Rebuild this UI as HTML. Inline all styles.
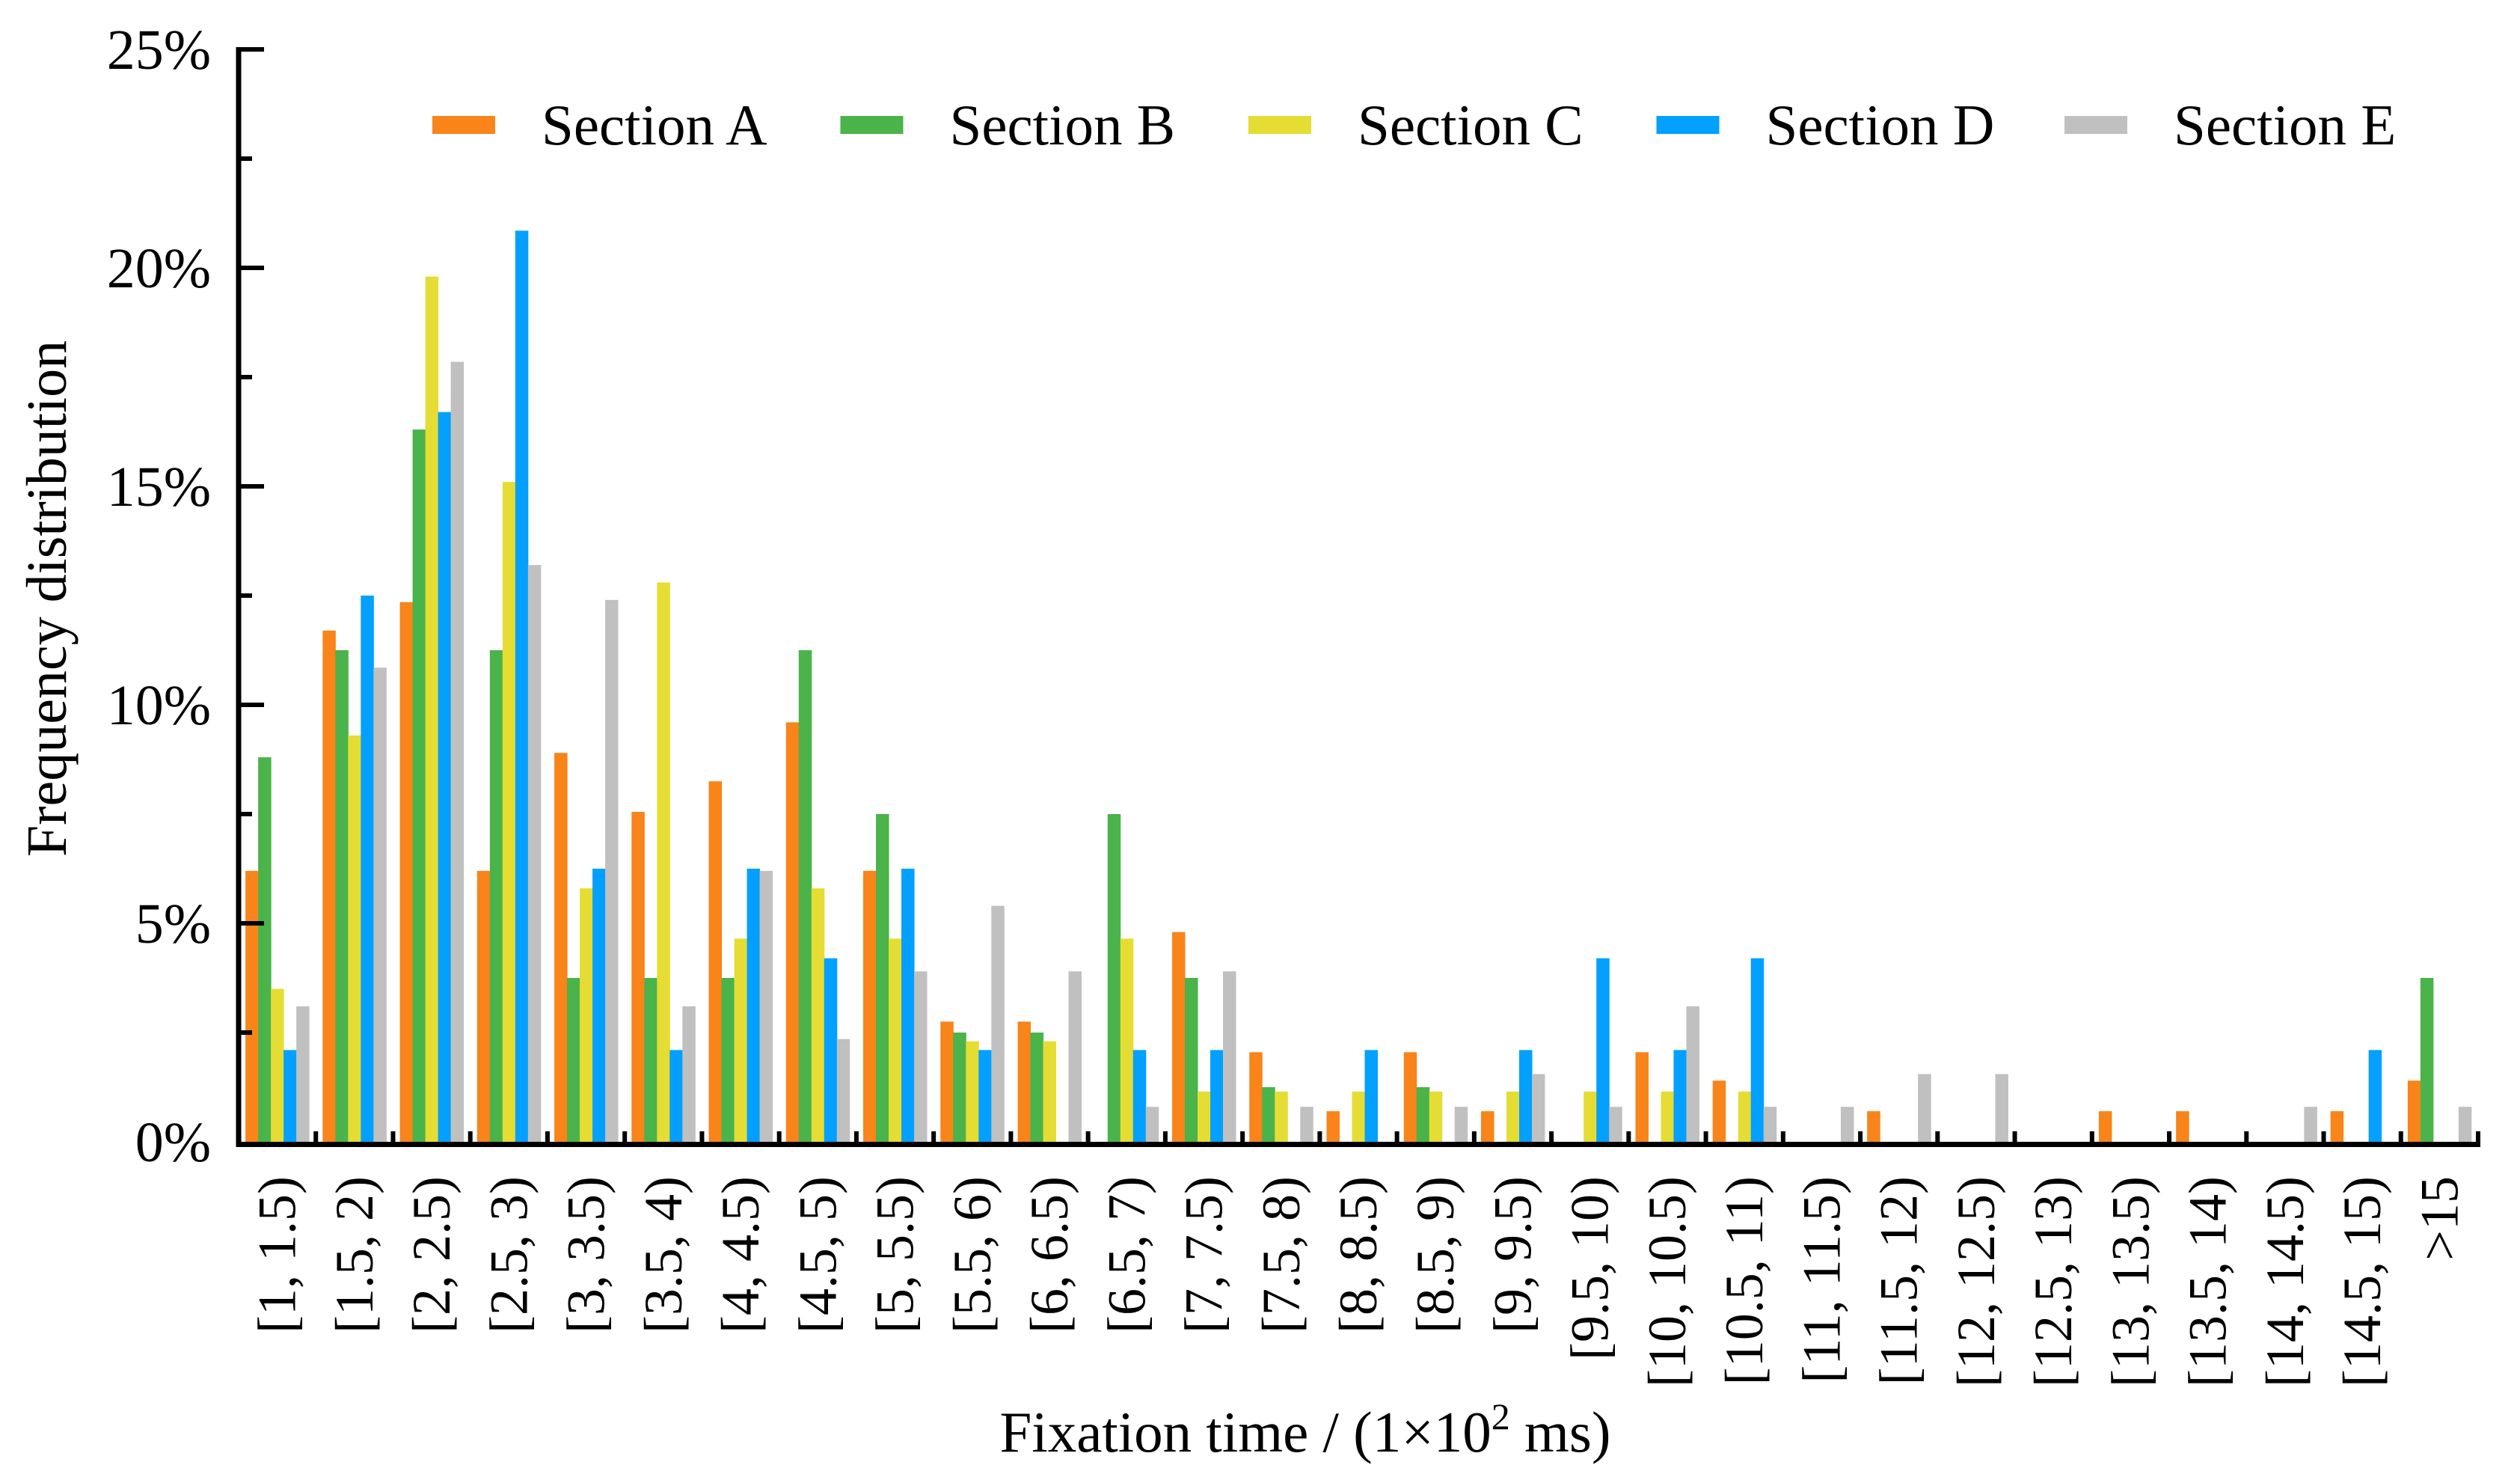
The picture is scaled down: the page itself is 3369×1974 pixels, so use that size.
<!DOCTYPE html>
<html><head><meta charset="utf-8"><style>
html,body{margin:0;padding:0;background:#fff;}
svg{display:block;font-family:"Liberation Serif",serif;}
</style></head><body>
<svg id="chart" width="3369" height="1974" viewBox="0 0 3369 1974" xmlns="http://www.w3.org/2000/svg">
<g id="bars"></g>
<g id="axes"></g>
<g id="legend"></g>
<text x="1745" y="1940" font-size="77" text-anchor="middle">Fixation time / (1×10<tspan font-size="50" dy="-30">2</tspan><tspan dy="30"> ms)</tspan></text>
<text transform="translate(88,800) rotate(-90)" font-size="76" text-anchor="middle">Frequency distribution</text>
</svg>
<script>
const categories = ["[1, 1.5)","[1.5, 2)","[2, 2.5)","[2.5, 3)","[3, 3.5)","[3.5, 4)","[4, 4.5)","[4.5, 5)","[5, 5.5)","[5.5, 6)","[6, 6.5)","[6.5, 7)","[7, 7.5)","[7.5, 8)","[8, 8.5)","[8.5, 9)","[9, 9.5)","[9.5, 10)","[10, 10.5)","[10.5, 11)","[11, 11.5)","[11.5, 12)","[12, 12.5)","[12.5, 13)","[13, 13.5)","[13.5, 14)","[14, 14.5)","[14.5, 15)",">15"];
const seriesNames = ["Section A","Section B","Section C","Section D","Section E"];
const sectionA = [6.2,11.7,12.35,6.2,8.9,7.55,8.25,9.6,6.2,2.75,2.75,0,4.8,2.05,0.7,2.05,0.7,0,2.05,1.4,0,0.7,0,0,0.7,0.7,0,0.7,1.4];
const sectionB = [8.8,11.25,16.3,11.25,3.75,3.75,3.75,11.25,7.5,2.5,2.5,7.5,3.75,1.25,0,1.25,0,0,0,0,0,0,0,0,0,0,0,0,3.75];
const sectionC = [3.5,9.3,19.8,15.1,5.8,12.8,4.65,5.8,4.65,2.3,2.3,4.65,1.15,1.15,1.15,1.15,1.15,1.15,1.15,1.15,0,0,0,0,0,0,0,0,0];
const sectionD = [2.1,12.5,16.7,20.85,6.25,2.1,6.25,4.2,6.25,2.1,0,2.1,2.1,0,2.1,0,2.1,4.2,2.1,4.2,0,0,0,0,0,0,0,2.1,0];
const sectionE = [3.1,10.85,17.85,13.2,12.4,3.1,6.2,2.35,3.9,5.4,3.9,0.8,3.9,0.8,0,0.8,1.55,0.8,3.1,0.8,0.8,1.55,1.55,0,0,0,0.8,0,0.8];
const yTicks = [0,5,10,15,20,25];
const yTickLabels = ["0%","5%","10%","15%","20%","25%"];
const colors = ["#F8841A","#4AB34A","#E5DD33","#03A0FF","#C0C0C0"];

const NS="http://www.w3.org/2000/svg";
const X0=319, X1=3313, Y0=1526, Y1=66, YMAX=25;
const n=categories.length, gw=(X1-X0)/n;
const bw=17, pad=(gw-5*bw)/2;
function yScale(v){return Y0-(v/YMAX)*(Y0-Y1);}
function xGroup(i){return X0+i*gw;}
function mk(tag,attrs,parent){const e=document.createElementNS(NS,tag);for(const k in attrs)e.setAttribute(k,attrs[k]);parent.appendChild(e);return e;}
const bars=document.getElementById('bars'), axes=document.getElementById('axes'), legend=document.getElementById('legend');
const series=[sectionA,sectionB,sectionC,sectionD,sectionE];
series.forEach((vals,s)=>{
  vals.forEach((v,i)=>{
    if(v<=0)return;
    const y=yScale(v);
    const r=mk('rect',{x:xGroup(i)+pad+s*bw,y:y,width:bw+0.5,height:Y0-y,fill:colors[s]},bars);
    
    
  });
});
const ya=mk('line',{x1:X0,y1:Y1-3,x2:X0,y2:Y0+7,stroke:'#000','stroke-width':7},axes);


const xa=mk('line',{x1:X0-3,y1:Y0+3.5,x2:X1+3,y2:Y0+3.5,stroke:'#000','stroke-width':7},axes);


yTicks.forEach((t,k)=>{
  const y=yScale(t);
  if(t>0){const tk=mk('line',{x1:X0,y1:y,x2:X0+34,y2:y,stroke:'#000','stroke-width':6},axes);
  
  }
  if(t<YMAX){const ym=yScale(t+2.5);const mt=mk('line',{x1:X0,y1:ym,x2:X0+18,y2:ym,stroke:'#000','stroke-width':6},axes);
  
  }
  const lb=mk('text',{x:282,y:y+26,'font-size':76,'text-anchor':'end'},axes);
  lb.textContent=yTickLabels[k];
  
  
});
for(let i=1;i<=n;i++){
  const x=xGroup(i);
  const tk=mk('line',{x1:x,y1:Y0,x2:x,y2:Y0-14,stroke:'#000','stroke-width':6},axes);
  
  
}
categories.forEach((c,i)=>{
  const cx=xGroup(i)+gw/2+24;
  const t=mk('text',{transform:'translate('+cx+',1572) rotate(-90)','font-size':72,'text-anchor':'end'},axes);
  t.textContent=c;
  
  
});
seriesNames.forEach((nm,s)=>{
  const lx=578+s*545.5;
  const g=mk('g',{},legend);
  
  
  mk('rect',{x:lx,y:155,width:84,height:24,fill:colors[s]},g);
  const t=mk('text',{x:lx+146,y:193,'font-size':77},g);
  t.textContent=nm;
});
</script>
</body></html>
